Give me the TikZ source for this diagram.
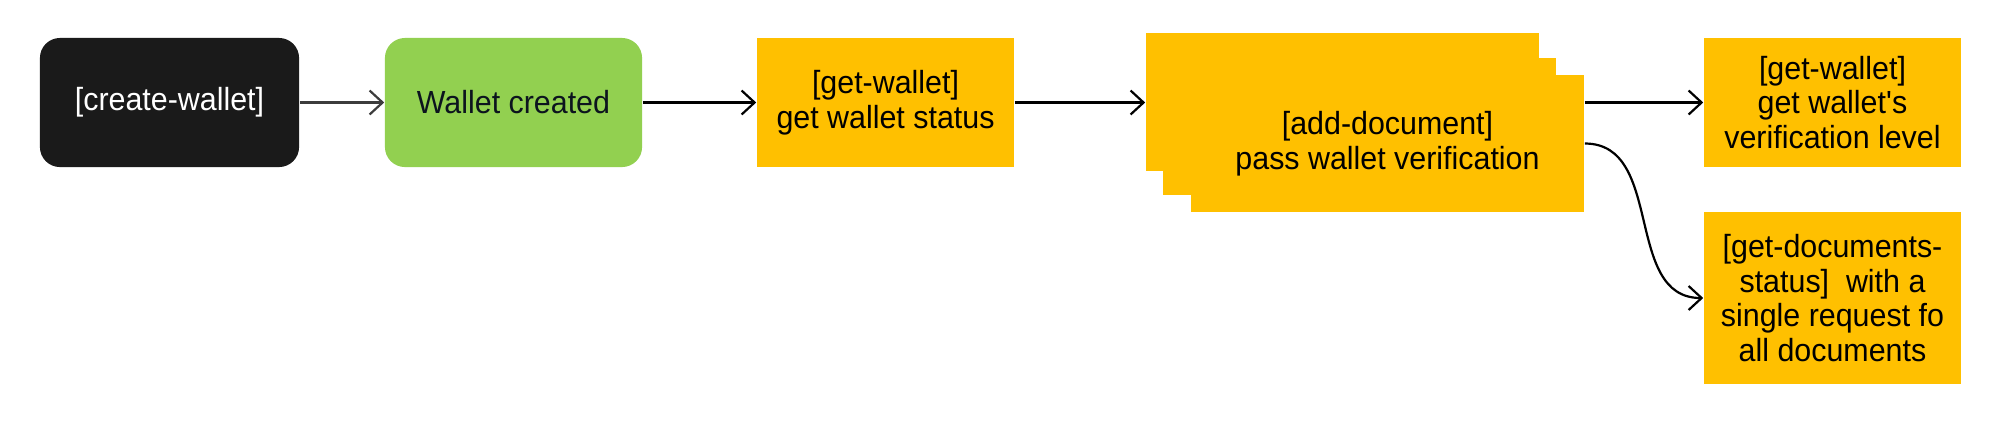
\documentclass[tikz,border=0pt]{standalone}
\usepackage{fontspec}
\setmainfont[FakeStretch=0.95]{Liberation Sans}
\usetikzlibrary{arrows.meta}
\definecolor{boxblack}{RGB}{26,26,26}
\definecolor{boxgreen}{RGB}{146,208,80}
\definecolor{boxyellow}{RGB}{255,192,0}
\definecolor{darktext}{RGB}{12,20,30}
\definecolor{arrowgray}{RGB}{60,60,60}
\tikzset{
  base/.style={draw=none, inner sep=0pt, align=center, font=\fontsize{9.1pt}{9.9pt}\selectfont},
  blackbox/.style={base, fill=boxblack, text=white, rounded corners=0.2cm, minimum width=2.59cm, minimum height=1.29cm},
  greenbox/.style={base, fill=boxgreen, text=darktext, rounded corners=0.2cm, minimum width=2.57cm, minimum height=1.29cm},
  yellowbox/.style={base, fill=boxyellow, text=black, minimum width=2.57cm, minimum height=1.29cm},
  stackbox/.style={base, fill=boxyellow, text=black, minimum width=3.93cm, minimum height=1.37cm},
  conn/.style={-{Straight Barb[length=1.3mm,width=2.4mm]}, line width=0.022cm, black},
}
\begin{document}
\begin{tikzpicture}[x=0.01cm, y=-0.01cm]
\useasboundingbox (0,0) rectangle (2000,435);
\node[blackbox] (cw) at (169.5,102.5) {[create-wallet]};
\node[greenbox] (wc) at (513.5,102.5) {Wallet created};
\node[yellowbox] (gw) at (885.5,102.5) {[get-wallet]\\get wallet status};
\node[stackbox] (back) at (1342.5,102) {};
\node[stackbox] (mid) at (1359.5,126.5) {};
\node[stackbox] (front) at (1387.5,143.5) {[add-document]\\pass wallet verification};
\node[yellowbox] (gwl) at (1832.5,102.5) {[get-wallet]\\get wallet\textquotesingle s\\verification level};
\node[yellowbox, minimum height=1.72cm] (gds) at (1832.5,298) {[get-documents-\\status]~ with a\\single request fo\\all documents};
\draw[conn, arrowgray] (cw) -- (wc);
\draw[conn] (wc) -- (gw);
\draw[conn] (gw.east) -- (back.west |- gw.east);
\draw[conn] (front.east |- gwl.west) -- (gwl.west);
\draw[conn] (front.east) to[out=0, in=180, looseness=1.05] (gds.west);
\end{tikzpicture}
\end{document}
